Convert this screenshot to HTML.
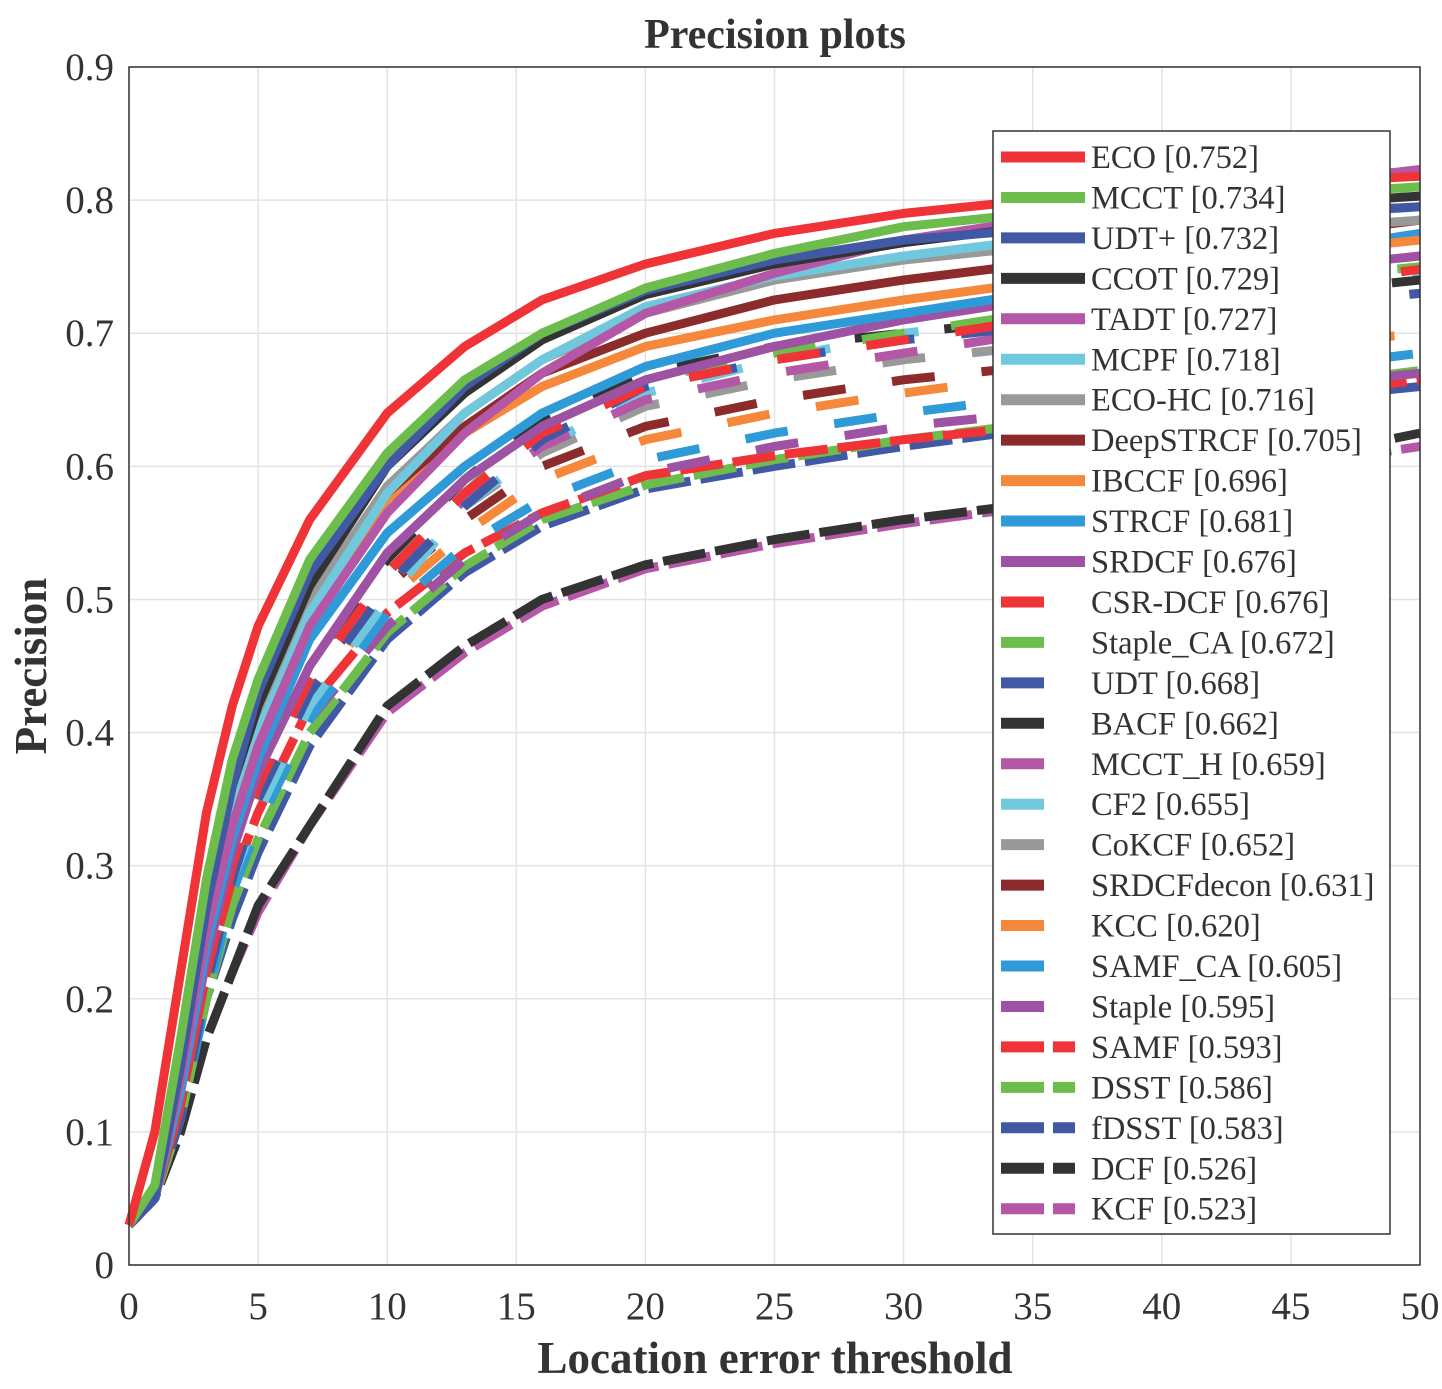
<!DOCTYPE html>
<html><head><meta charset="utf-8"><style>
body{margin:0;background:#fff;}
svg text{font-family:"Liberation Serif",serif;fill:#333;}
</style></head><body>
<svg id="c" width="1442" height="1384" xmlns="http://www.w3.org/2000/svg">
<rect width="1442" height="1384" fill="#fff"/>
<g id="grid"></g>
<g id="curves"></g>
<rect x="129" y="67" width="1291" height="1198" fill="none" stroke="#333" stroke-width="1.5"/>
<g id="ticks"></g>
<text x="775" y="48" font-size="42" font-weight="bold" text-anchor="middle">Precision plots</text>
<text x="775" y="1373" font-size="45" font-weight="bold" text-anchor="middle">Location error threshold</text>
<text transform="translate(46,666) rotate(-90)" font-size="45" font-weight="bold" text-anchor="middle">Precision</text>
<g id="legend"></g>
</svg>
<script>
const xs=[0,1,2,3,4,5,7,10,13,16,20,25,30,35,40,45,50];
const names=["ECO [0.752]","MCCT [0.734]","UDT+ [0.732]","CCOT [0.729]","TADT [0.727]","MCPF [0.718]","ECO-HC [0.716]","DeepSTRCF [0.705]","IBCCF [0.696]","STRCF [0.681]","SRDCF [0.676]","CSR-DCF [0.676]","Staple_CA [0.672]","UDT [0.668]","BACF [0.662]","MCCT_H [0.659]","CF2 [0.655]","CoKCF [0.652]","SRDCFdecon [0.631]","KCC [0.620]","SAMF_CA [0.605]","Staple [0.595]","SAMF [0.593]","DSST [0.586]","fDSST [0.583]","DCF [0.526]","KCF [0.523]"];
const colors=["#ef3337","#6cbd4c","#4158a5","#333333","#b457a6","#70c8dc","#999999","#8c2b2b","#f5883a","#2f9ad8","#9d52a3","#ef3337","#6cbd4c","#4158a5","#333333","#b457a6","#70c8dc","#999999","#8c2b2b","#f5883a","#2f9ad8","#9d52a3","#ef3337","#6cbd4c","#4158a5","#333333","#b457a6"];
const s0=[.03,.10,.22,.34,.42,.48,.56,.64,.69,.725,.752,.775,.79,.80,.807,.813,.818];
const s1=[.03,.06,.17,.29,.38,.44,.53,.61,.665,.70,.734,.76,.78,.79,.797,.804,.81];
const s2=[.03,.05,.15,.27,.36,.43,.52,.60,.66,.70,.732,.755,.77,.778,.785,.79,.795];
const s3=[.03,.05,.15,.27,.36,.42,.51,.60,.655,.695,.729,.752,.768,.78,.79,.797,.803];
const s4=[.03,.05,.14,.25,.33,.39,.48,.565,.625,.67,.715,.745,.77,.785,.80,.812,.823];
const s5=[.03,.05,.14,.25,.34,.40,.49,.58,.64,.68,.72,.743,.758,.77,.78,.788,.795];
const s6=[.03,.05,.15,.27,.35,.41,.50,.585,.64,.68,.715,.74,.755,.765,.772,.778,.785];
const s7=[.03,.05,.15,.27,.35,.41,.50,.58,.63,.67,.70,.725,.74,.752,.763,.773,.785];
const s8=[.03,.05,.14,.26,.34,.40,.49,.575,.625,.66,.69,.71,.725,.738,.75,.76,.77];
const s9=[.03,.05,.13,.24,.32,.38,.47,.55,.60,.64,.675,.70,.715,.73,.745,.76,.775];
const s10=[.03,.05,.13,.23,.31,.37,.45,.535,.59,.63,.665,.69,.71,.725,.738,.748,.758];
const s11=[.03,.05,.12,.22,.30,.36,.44,.52,.58,.625,.66,.68,.695,.71,.72,.735,.748];
const s12=[.03,.05,.12,.22,.30,.36,.44,.52,.58,.63,.665,.685,.70,.715,.728,.74,.75];
const s13=[.03,.05,.11,.21,.29,.35,.43,.51,.57,.62,.66,.68,.695,.705,.712,.72,.73];
const s14=[.03,.05,.12,.22,.30,.36,.45,.53,.59,.635,.67,.69,.70,.71,.72,.73,.74];
const s15=[.03,.05,.12,.22,.30,.355,.44,.52,.575,.615,.65,.67,.685,.70,.71,.72,.73];
const s16=[.03,.05,.12,.22,.29,.34,.42,.50,.57,.615,.655,.68,.70,.71,.72,.73,.745];
const s17=[.03,.05,.12,.22,.30,.35,.43,.51,.57,.61,.645,.665,.68,.69,.70,.71,.72];
const s18=[.03,.05,.12,.22,.30,.36,.44,.51,.56,.60,.63,.65,.665,.675,.685,.695,.705];
const s19=[.03,.05,.12,.21,.29,.35,.43,.50,.55,.59,.62,.64,.655,.668,.68,.69,.70];
const s20=[.03,.05,.11,.20,.28,.33,.41,.49,.54,.575,.605,.625,.64,.652,.663,.673,.685];
const s21=[.03,.05,.12,.21,.28,.33,.41,.48,.53,.565,.595,.615,.63,.64,.65,.66,.67];
const s22=[.03,.05,.12,.22,.29,.34,.42,.49,.535,.565,.593,.608,.62,.63,.64,.652,.665];
const s23=[.03,.05,.11,.20,.27,.32,.40,.475,.525,.56,.586,.605,.62,.632,.645,.66,.672];
const s24=[.03,.05,.11,.20,.26,.31,.39,.47,.52,.555,.583,.60,.615,.628,.64,.65,.66];
const s25=[.03,.05,.10,.17,.22,.27,.33,.42,.465,.50,.526,.545,.56,.572,.59,.605,.625];
const s26=[.03,.05,.10,.17,.22,.265,.33,.415,.46,.495,.523,.542,.557,.57,.585,.60,.615];
const series=[s0,s1,s2,s3,s4,s5,s6,s7,s8,s9,s10,s11,s12,s13,s14,s15,s16,s17,s18,s19,s20,s21,s22,s23,s24,s25,s26];
const xTicks=[0,5,10,15,20,25,30,35,40,45,50];
const yTicks=[0,0.1,0.2,0.3,0.4,0.5,0.6,0.7,0.8,0.9];
const NS="http://www.w3.org/2000/svg";
const X=v=>129+v/50*1291, Y=v=>1265-v/0.9*1198;
function mk(t,a,p){const e=document.createElementNS(NS,t);for(const k in a)e.setAttribute(k,a[k]);p.appendChild(e);return e;}
const grid=document.getElementById('grid'),ticks=document.getElementById('ticks');
xTicks.forEach(t=>{
  const l=mk('line',{x1:X(t),x2:X(t),y1:67,y2:1265,stroke:'#e3e3e3','stroke-width':1.5},grid);
  
  
  const tx=mk('text',{x:X(t),y:1319,'font-size':39,'text-anchor':'middle'},ticks);tx.textContent=t;
  
  
});
yTicks.forEach(t=>{
  const l=mk('line',{x1:129,x2:1420,y1:Y(t),y2:Y(t),stroke:'#e3e3e3','stroke-width':1.5},grid);
  
  
  const tx=mk('text',{x:114,y:Y(t)+13,'font-size':39,'text-anchor':'end'},ticks);tx.textContent=t===0?'0':t.toFixed(1);
  
  
});
const dashFor=i=>i<11?null:(i<22?'43,47':'43,10');
const cg=document.getElementById('curves');
for(let i=series.length-1;i>=0;i--){
  const d=series[i].map((v,j)=>(j?'L':'M')+X(xs[j]).toFixed(1)+','+Y(v).toFixed(1)).join('');
  const a={d:d,fill:'none',stroke:colors[i],'stroke-width':9,'stroke-linejoin':'round'};
  if(dashFor(i))a['stroke-dasharray']=dashFor(i);
  const p=mk('path',a,cg);
  
  
}
const lg=document.getElementById('legend');
const box=mk('rect',{x:993,y:131,width:397,height:1103,fill:'#fff',stroke:'#333','stroke-width':1.5},lg);


names.forEach((n,i)=>{
  const y=157+i*40.45;
  const g=mk('g',{},lg);
  
  
  const a={x1:1001,x2:1085,y1:y,y2:y,stroke:colors[i],'stroke-width':11};
  if(dashFor(i))a['stroke-dasharray']=dashFor(i)==='43,10'?'43,9,22,100':'43,100';
  mk('line',a,g);
  const t=mk('text',{x:1091,y:y+11,'font-size':32.5},g);t.textContent=n;
});
</script>
</body></html>
